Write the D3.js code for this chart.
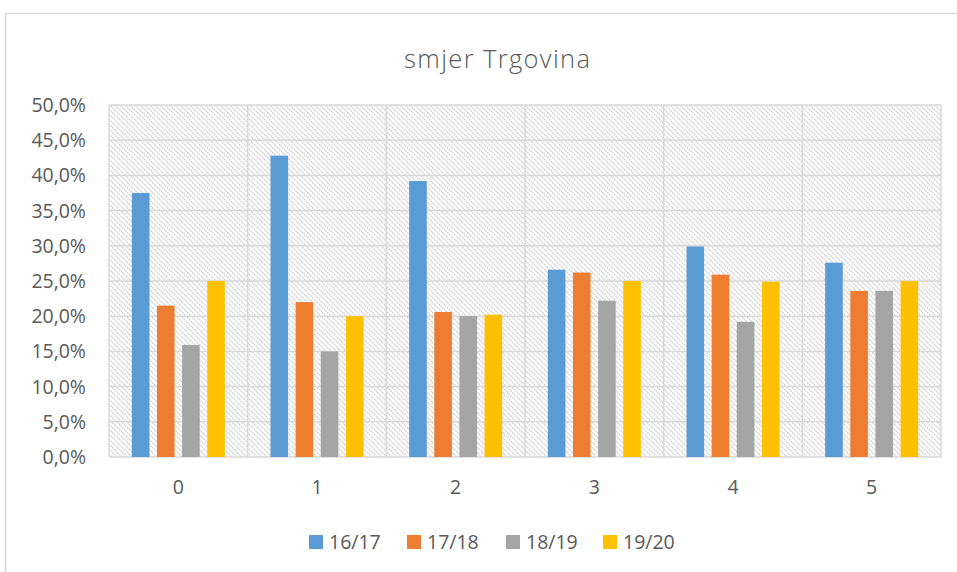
<!DOCTYPE html>
<html lang="hr">
<head>
<meta charset="UTF-8">
<title>smjer Trgovina</title>
<script src="https://d3js.org/d3.v7.min.js"></script>
<style>
  body { margin: 0; background: #fff; font-family: "Open Sans", Arial, sans-serif; }
  svg { display: block; }
</style>
</head>
<body>
<svg width="957" height="572"></svg>
<script>
// data
const categories = ["0", "1", "2", "3", "4", "5"];
const seriesNames = ["16/17", "17/18", "18/19", "19/20"];
const s1617 = [37.5, 42.8, 39.2, 26.6, 29.9, 27.6];
const s1718 = [21.5, 22.0, 20.6, 26.2, 25.9, 23.6];
const s1819 = [15.9, 15.0, 20.0, 22.2, 19.2, 23.6];
const s1920 = [25.0, 20.0, 20.2, 25.0, 24.9, 25.0];
const colors = ["#5b9bd5", "#ed7d31", "#a5a5a5", "#ffc000"];
const yTicks = [0, 5, 10, 15, 20, 25, 30, 35, 40, 45, 50];

const allSeries = [s1617, s1718, s1819, s1920];
const svg = d3.select("svg");
const grid = "#d9d9d9", textCol = "#595959";

// outer chart frame
svg.append("rect").attr("x", 5.5).attr("y", 13.5).attr("width", 1000).attr("height", 600)
  .attr("fill", "#fff").attr("stroke", grid).attr("stroke-width", 1.5);

// hatch pattern for plot area
const defs = svg.append("defs");
const pat = defs.append("pattern").attr("id", "hatch").attr("patternUnits", "userSpaceOnUse")
  .attr("width", 5).attr("height", 5);
pat.append("rect").attr("width", 5).attr("height", 5).attr("fill", "#fff");
pat.append("path").attr("d", "M-1,-1 L6,6 M-1,4 L1,6 M4,-1 L6,1")
  .attr("stroke", "#d2d2d2").attr("stroke-width", 1.4).attr("stroke-dasharray", "1.6,0.7");

const m = { left: 109, right: 941, top: 105, bottom: 457 };
const x = d3.scaleBand().domain(categories).range([m.left, m.right]).padding(0);
const y = d3.scaleLinear().domain([0, 50]).range([m.bottom, m.top]);
const groupW = 93;
const xs = d3.scaleBand().domain(d3.range(seriesNames.length))
  .range([0, groupW]).paddingInner(0.3).paddingOuter(0);
// bar group centred in each band
const groupOff = (x.bandwidth() - groupW) / 2;

svg.append("rect").attr("x", m.left).attr("y", m.top)
  .attr("width", m.right - m.left).attr("height", m.bottom - m.top).attr("fill", "url(#hatch)");

// horizontal gridlines
svg.append("g").selectAll("line").data(yTicks).join("line")
  .attr("x1", m.left).attr("x2", m.right)
  .attr("y1", d => y(d)).attr("y2", d => y(d))
  .attr("stroke", grid).attr("stroke-width", 1.5);
// vertical gridlines at category boundaries
svg.append("g").selectAll("line").data(categories.concat(["end"])).join("line")
  .attr("x1", (d, i) => m.left + i * x.step()).attr("x2", (d, i) => m.left + i * x.step())
  .attr("y1", m.top).attr("y2", m.bottom)
  .attr("stroke", grid).attr("stroke-width", 1.5);

// bars
allSeries.forEach((vals, si) => {
  svg.append("g").selectAll("rect").data(vals).join("rect")
    .attr("x", (d, i) => x(categories[i]) + groupOff + xs(si))
    .attr("width", xs.bandwidth())
    .attr("y", d => y(d))
    .attr("height", d => y(0) - y(d))
    .attr("fill", colors[si]);
});

// y axis labels
svg.append("g").selectAll("text").data(yTicks).join("text")
  .attr("x", 86).attr("y", d => y(d) + 7)
  .attr("text-anchor", "end").attr("fill", textCol).attr("font-size", 19.5)
  .text(d => d3.format(".1f")(d).replace(".", ",") + "%");

// x axis labels
svg.append("g").selectAll("text").data(categories).join("text")
  .attr("x", d => x(d) + x.bandwidth() / 2).attr("y", 494)
  .attr("text-anchor", "middle").attr("fill", textCol).attr("font-size", 19.5)
  .text(d => d);

// title
svg.append("text").attr("x", 497).attr("y", 68)
  .attr("text-anchor", "middle").attr("fill", textCol).attr("font-size", 25.5)
  .attr("font-weight", 300).attr("textLength", 186).attr("lengthAdjust", "spacing")
  .text("smjer Trgovina");

// legend
const legX = [309, 407, 506, 603];
const leg = svg.append("g").selectAll("g").data(seriesNames).join("g")
  .attr("transform", (d, i) => `translate(${legX[i]},542)`);
leg.append("rect").attr("x", 0).attr("y", -7).attr("width", 14).attr("height", 14)
  .attr("fill", (d, i) => colors[i]);
leg.append("text").attr("x", 20).attr("y", 7)
  .attr("fill", textCol).attr("font-size", 19.5).text(d => d);
</script>
</body>
</html>
